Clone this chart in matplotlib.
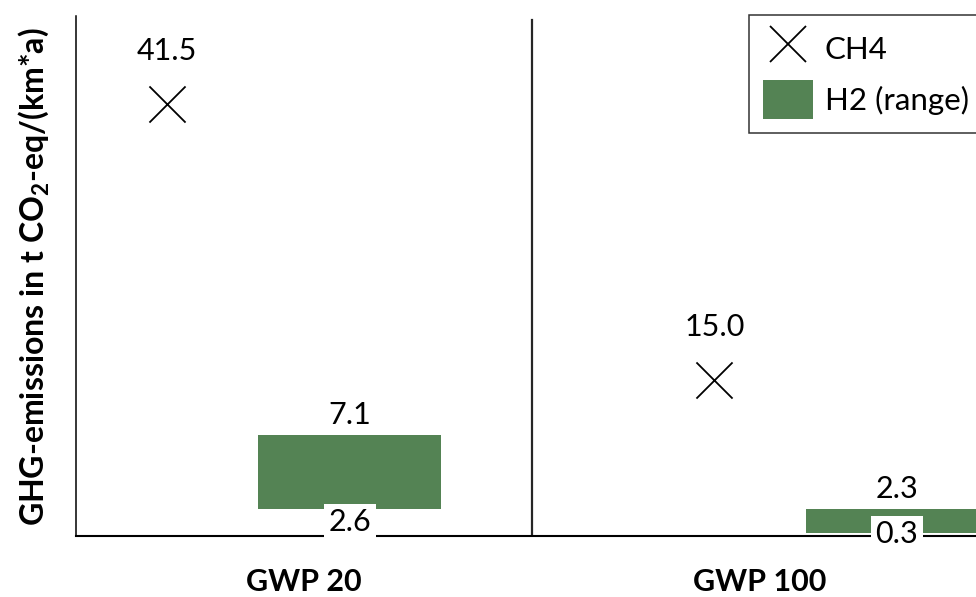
import matplotlib
matplotlib.use("Agg")
import matplotlib.pyplot as plt
from matplotlib.lines import Line2D
from matplotlib.patches import Patch

# ---- data ----
categories = ["GWP 20", "GWP 100"]
ch4_values = [41.5, 15.0]
h2_min = [2.6, 0.3]
h2_span = [7.1, 2.3]
series_names = ["CH4", "H2 (range)"]

# ---- style ----
FONT = "Lato"
GREEN = "#548354"
plt.rcParams["font.family"] = [FONT, "DejaVu Sans"]
plt.rcParams["mathtext.default"] = "regular"

W, H = 976, 597
fig = plt.figure(figsize=(W / 100, H / 100), dpi=100)
ax = fig.add_axes([76 / W, 61.3 / H, 912 / W, 520 / H])

x = list(range(len(categories)))
ch4_off = [-0.30, -0.10]
h2_off = [0.10, 0.30]
bar_w = 0.40
fs = 22
fs_leg = 22.5
fs_ylab = 23

ch4_x = [xi + o for xi, o in zip(x, ch4_off)]
h2_x = [xi + o for xi, o in zip(x, h2_off)]

ax.scatter(ch4_x, ch4_values, marker="x", s=26 ** 2, color="black",
           linewidths=1.3, zorder=3)
ax.bar(h2_x, h2_span, bottom=h2_min, width=bar_w, color=GREEN, zorder=2)

for xi, v in zip(ch4_x, ch4_values):
    ax.annotate(f"{v:.1f}", (xi, v), xytext=(0, 38), textcoords="offset points",
                ha="center", va="center", fontsize=fs)
for xi, b, s in zip(h2_x, h2_min, h2_span):
    ax.annotate(f"{s:.1f}", (xi, b + s), xytext=(0, 14.5), textcoords="offset points",
                ha="center", va="center", fontsize=fs)
    ax.annotate(f"{b:.1f}", (xi, b / 2), xytext=(0, 0), textcoords="offset points",
                ha="center", va="center", fontsize=fs, zorder=6,
                bbox=dict(boxstyle="square,pad=0.15", fc="white", ec="none"),
                annotation_clip=False)

ax.set_xlim(-0.5, len(categories) - 0.5)
ax.set_ylim(0, 50)
ax.plot([0.5, 0.5], [0, 49.6], color="#262626", lw=1.6, zorder=1)

for sp in ["top", "right"]:
    ax.spines[sp].set_visible(False)
ax.spines["left"].set_linewidth(1.1)
ax.spines["bottom"].set_linewidth(1.5)
ax.spines["left"].set_color("black")
ax.spines["bottom"].set_color("black")
ax.set_yticks([])
ax.set_xticks(x)
ax.set_xticklabels(categories, fontsize=fs, fontweight="bold")
ax.tick_params(axis="x", length=0, pad=23)

fig.text(34 / W, 1 - 277 / H, "GHG-emissions in t CO$_2$-eq/(km*a)",
         rotation=90, ha="center", va="center", fontsize=fs_ylab, fontweight="bold")

handles = [Line2D([], [], marker="x", color="black", linestyle="none",
                  markersize=26, markeredgewidth=1.3),
           Patch(facecolor=GREEN, edgecolor="none")]
leg = fig.legend(handles, series_names, loc="upper left",
                 bbox_to_anchor=(749 / W, 1 - 15 / H), fontsize=fs_leg,
                 frameon=True, fancybox=False, handlelength=1.6,
                 handleheight=1.53, handletextpad=0.38, labelspacing=0.4,
                 borderpad=0.45, borderaxespad=0)
leg.get_frame().set_edgecolor("black")
leg.get_frame().set_linewidth(1.1)

fig.savefig("out.png", dpi=100)
